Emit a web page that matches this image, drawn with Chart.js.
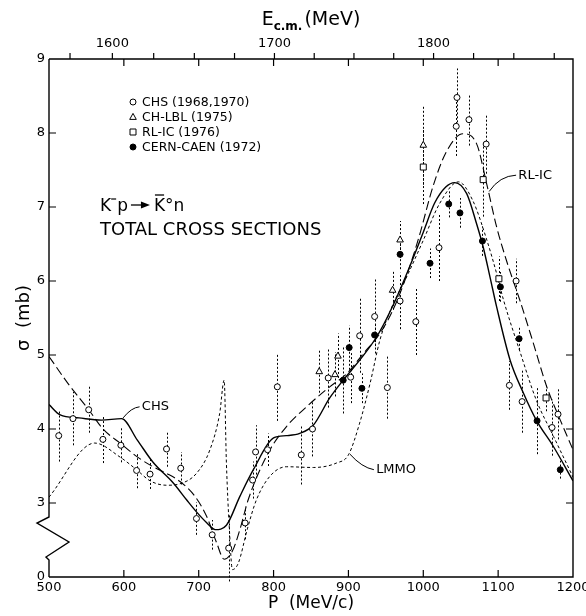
<!DOCTYPE html>
<html>
<head>
<meta charset="utf-8">
<script src="https://cdn.jsdelivr.net/npm/chart.js@4.4.0/dist/chart.umd.min.js"></script>
<style>
  html, body { margin: 0; padding: 0; background: #fff; }
</style>
</head>
<body>
<canvas id="chart" width="586" height="616"></canvas>
<script>
const FONT = '"DejaVu Sans", "Liberation Sans", sans-serif';

// axes
const pTicks = [500, 600, 700, 800, 900, 1000, 1100, 1200];
const ecmLabelled = [1600, 1700, 1800];
const ecmMinor = [1575, 1600, 1625, 1650, 1675, 1700, 1725, 1750, 1775, 1800, 1825, 1850, 1875];
const sigmaTicks = [3, 4, 5, 6, 7, 8, 9];
const SIGMA_FLOOR = 2; // broken axis: this height carries the label 0

// fitted curves
const chsFitP = [500, 515, 540, 570, 597, 618, 639, 666, 684, 697, 711, 722, 737, 755, 773, 800, 817, 835, 853, 875, 893, 915, 938, 960, 980, 1000, 1015, 1030, 1042, 1058, 1071, 1080, 1089, 1098, 1116, 1134, 1151, 1174, 1200];
const chsFitS = [4.33, 4.19, 4.15, 4.12, 4.14, 3.85, 3.55, 3.27, 3.04, 2.88, 2.73, 2.64, 2.70, 3.09, 3.45, 3.88, 3.91, 3.94, 4.05, 4.42, 4.66, 4.93, 5.25, 5.68, 6.15, 6.66, 7.05, 7.27, 7.33, 7.18, 6.78, 6.46, 6.06, 5.65, 4.93, 4.48, 4.12, 3.76, 3.30];

const rlicFitP = [500, 525, 553, 573, 595, 617, 639, 657, 675, 695, 711, 724, 734, 745, 755, 766, 793, 817, 844, 875, 898, 920, 942, 960, 978, 995, 1013, 1031, 1053, 1071, 1085, 1098, 1111, 1129, 1147, 1165, 1183, 1200];
const rlicFitS = [4.98, 4.62, 4.26, 3.99, 3.81, 3.63, 3.49, 3.40, 3.29, 3.09, 2.81, 2.46, 2.24, 2.35, 2.64, 3.04, 3.68, 4.03, 4.30, 4.57, 4.75, 5.02, 5.29, 5.62, 6.08, 6.62, 7.28, 7.75, 7.99, 7.86, 7.30, 6.73, 6.28, 5.74, 5.16, 4.57, 4.12, 3.72];

const lmmoP = [500, 561, 595, 617, 635, 657, 675, 697, 715, 728, 734, 737, 741, 745, 753, 765, 777, 795, 817, 853, 884, 900, 915, 929, 942, 958, 978, 1000, 1022, 1047, 1066, 1085, 1098, 1107, 1129, 1151, 1174, 1200];
const lmmoS = [3.08, 3.81, 3.62, 3.45, 3.30, 3.24, 3.26, 3.40, 3.72, 4.21, 4.66, 3.54, 2.64, 2.10, 2.19, 2.65, 3.04, 3.36, 3.49, 3.48, 3.54, 3.65, 4.08, 4.62, 5.20, 5.65, 6.06, 6.55, 7.05, 7.34, 7.09, 6.55, 6.10, 5.75, 5.05, 4.39, 3.90, 3.35];

// measurements: momentum, cross section, error
const chsP = [513, 532, 553, 572, 596, 617, 635, 657, 676, 697, 718, 740, 762, 772, 776, 792, 805, 837, 852, 873, 903, 915, 935, 952, 969, 990, 1021, 1044, 1045, 1061, 1084, 1115, 1124, 1132, 1172, 1180];
const chsS = [3.91, 4.14, 4.26, 3.86, 3.78, 3.44, 3.39, 3.73, 3.47, 2.79, 2.57, 2.39, 2.73, 3.31, 3.69, 3.72, 4.57, 3.65, 4.00, 4.69, 4.70, 5.26, 5.52, 4.56, 5.73, 5.45, 6.45, 8.09, 8.48, 8.18, 7.85, 4.59, 6.00, 4.37, 4.02, 4.20];
const chsErr = [0.35, 0.36, 0.31, 0.32, 0.23, 0.24, 0.2, 0.24, 0.22, 0.22, 0.2, 0.45, 0.22, 0.25, 0.36, 0.22, 0.46, 0.4, 0.37, 0.4, 0.35, 0.5, 0.5, 0.42, 0.38, 0.45, 0.45, 0.4, 0.39, 0.35, 0.4, 0.33, 0.3, 0.42, 0.38, 0.34];

const lblP = [861, 882, 886, 959, 969, 1000];
const lblS = [4.78, 4.74, 4.99, 5.88, 6.56, 7.84];
const lblErr = [0.29, 0.3, 0.3, 0.27, 0.25, 0.54];

const rlP = [1000, 1080, 1101, 1164];
const rlS = [7.54, 7.37, 6.03, 4.42];
const rlErr = [0.5, 0.5, 0.3, 0.18];

const cernP = [893, 901, 918, 935, 969, 1009, 1034, 1049, 1079, 1103, 1128, 1152, 1183];
const cernS = [4.66, 5.10, 4.55, 5.27, 6.36, 6.24, 7.04, 6.92, 6.54, 5.92, 5.22, 4.11, 3.45];
const cernErr = [0.45, 0.3, 0.2, 0.15, 0.2, 0.2, 0.18, 0.2, 0.2, 0.2, 0.15, 0.45, 0.12];

const legendItems = [
  { style: 'circle', text: 'CHS (1968,1970)' },
  { style: 'triangle', text: 'CH-LBL (1975)' },
  { style: 'rect', text: 'RL-IC (1976)' },
  { style: 'dot', text: 'CERN-CAEN (1972)' },
];

// K- p kinematics, to place the E c.m. ticks on the momentum scale
const M_K = 493.677, M_P = 938.272;
function pFromEcm(E) {
  const eK = (E * E - M_K * M_K - M_P * M_P) / (2 * M_P);
  return Math.sqrt(eK * eK - M_K * M_K);
}

const xy = (xs, ys) => xs.map((v, i) => ({ x: v, y: ys[i] }));

function drawMarker(ctx, style, x, y) {
  ctx.save();
  ctx.setLineDash([]);
  ctx.lineWidth = 1;
  ctx.strokeStyle = '#000';
  ctx.fillStyle = style === 'dot' ? '#000' : '#fff';
  ctx.beginPath();
  if (style === 'triangle') {
    ctx.moveTo(x, y - 3.6);
    ctx.lineTo(x + 3.3, y + 2.4);
    ctx.lineTo(x - 3.3, y + 2.4);
    ctx.closePath();
  } else if (style === 'rect') {
    ctx.rect(x - 3, y - 3, 6, 6);
  } else {
    ctx.arc(x, y, 3, 0, Math.PI * 2);
  }
  ctx.fill();
  ctx.stroke();
  ctx.restore();
}

// dotted error bars, under everything else
const errorBars = {
  id: 'errorBars',
  beforeDatasetsDraw(chart) {
    const { ctx, scales: { x, y } } = chart;
    ctx.save();
    ctx.strokeStyle = '#000';
    ctx.lineWidth = 1;
    ctx.setLineDash([2, 2]);
    chart.data.datasets.forEach(ds => {
      if (!ds.errors) return;
      ds.data.forEach((pt, i) => {
        const px = Math.round(x.getPixelForValue(pt.x)) + 0.5;
        ctx.beginPath();
        ctx.moveTo(px, y.getPixelForValue(pt.y - ds.errors[i]));
        ctx.lineTo(px, y.getPixelForValue(pt.y + ds.errors[i]));
        ctx.stroke();
      });
    });
    ctx.restore();
  }
};

// markers drawn by hand so the shapes match the legend
const markers = {
  id: 'markers',
  afterDatasetsDraw(chart) {
    const { ctx, scales: { x, y } } = chart;
    chart.data.datasets.forEach(ds => {
      if (!ds.marker) return;
      ds.data.forEach(pt => drawMarker(ctx, ds.marker, x.getPixelForValue(pt.x), y.getPixelForValue(pt.y)));
    });
  }
};

// frame with inward ticks, broken left axis, labels and captions
const frame = {
  id: 'frame',
  afterDraw(chart) {
    const { ctx, chartArea: a, scales: { x, y } } = chart;
    ctx.save();
    ctx.strokeStyle = '#000';
    ctx.setLineDash([]);
    ctx.lineWidth = 1.4;
    ctx.beginPath();
    ctx.moveTo(a.left, a.top);
    ctx.lineTo(a.right, a.top);
    ctx.lineTo(a.right, a.bottom);
    ctx.lineTo(a.left, a.bottom);
    ctx.stroke();

    ctx.beginPath();
    ctx.moveTo(a.left, a.top);
    ctx.lineTo(a.left, a.bottom - 60);
    ctx.lineTo(a.left - 12, a.bottom - 54);
    ctx.lineTo(a.left + 20, a.bottom - 35);
    ctx.lineTo(a.left - 3, a.bottom - 20);
    ctx.lineTo(a.left, a.bottom - 17);
    ctx.lineTo(a.left, a.bottom);
    ctx.stroke();

    ctx.lineWidth = 1.2;
    ctx.beginPath();
    pTicks.slice(1, -1).forEach(p => {
      const px = x.getPixelForValue(p);
      ctx.moveTo(px, a.bottom); ctx.lineTo(px, a.bottom - 7);
      ctx.moveTo(px, a.top); ctx.lineTo(px, a.top + 7);
    });
    ecmMinor.forEach(E => {
      const px = x.getPixelForValue(pFromEcm(E));
      ctx.moveTo(px, a.top); ctx.lineTo(px, a.top - 6);
    });
    sigmaTicks.slice(0, -1).forEach(s => {
      const py = y.getPixelForValue(s);
      ctx.moveTo(a.left, py); ctx.lineTo(a.left + 7, py);
      ctx.moveTo(a.right, py); ctx.lineTo(a.right - 7, py);
    });
    ctx.stroke();

    // top axis title E c.m. (MeV)
    ctx.fillStyle = '#000';
    ctx.textBaseline = 'alphabetic';
    const big = `19px ${FONT}`, small = `bold 12px ${FONT}`;
    ctx.font = big; const wE = ctx.measureText('E').width; const wM = ctx.measureText('(MeV)').width;
    ctx.font = small; const wS = ctx.measureText('c.m.').width;
    let tx = (a.left + a.right) / 2 - (wE + wS + 2 + wM) / 2;
    ctx.font = big; ctx.fillText('E', tx, 25); tx += wE;
    ctx.font = small; ctx.fillText('c.m.', tx, 30); tx += wS + 2;
    ctx.font = big; ctx.fillText('(MeV)', tx, 25);

    // legend
    ctx.font = `12.5px ${FONT}`;
    ctx.textBaseline = 'middle';
    legendItems.forEach((it, i) => {
      const ly = 102 + i * 15;
      drawMarker(ctx, it.style, 133, ly);
      ctx.fillText(it.text, 142, ly + 1);
    });

    // reaction caption
    ctx.textBaseline = 'alphabetic';
    let cx = 100;
    const cy = 211;
    ctx.font = `17px ${FONT}`;
    ctx.fillText('K', cx, cy); cx += ctx.measureText('K').width;
    ctx.lineWidth = 1.2;
    ctx.beginPath(); ctx.moveTo(cx, cy - 12); ctx.lineTo(cx + 5, cy - 12); ctx.stroke();
    cx += 6;
    ctx.fillText('p', cx, cy); cx += ctx.measureText('p').width + 3;
    ctx.lineWidth = 1.3;
    ctx.beginPath(); ctx.moveTo(cx, cy - 6); ctx.lineTo(cx + 12, cy - 6); ctx.stroke();
    ctx.beginPath(); ctx.moveTo(cx + 19, cy - 6); ctx.lineTo(cx + 10, cy - 9.5); ctx.lineTo(cx + 10, cy - 2.5); ctx.closePath(); ctx.fill();
    cx += 23;
    const wK = ctx.measureText('K').width;
    ctx.fillText('K', cx, cy);
    ctx.beginPath(); ctx.moveTo(cx + 1, cy - 16); ctx.lineTo(cx + wK - 1, cy - 16); ctx.stroke();
    cx += wK;
    ctx.fillText('\u00b0n', cx, cy);
    ctx.font = `18px ${FONT}`;
    ctx.fillText('TOTAL CROSS SECTIONS', 100, 235);

    // curve labels with leaders
    const curveLabels = [
      { text: 'CHS', at: [624, 4.30], lead: [[621, 4.30], [610, 4.29], [599, 4.15]] },
      { text: 'LMMO', at: [937, 3.45], lead: [[934, 3.45], [918, 3.48], [902, 3.66]] },
      { text: 'RL-IC', at: [1127, 7.43], lead: [[1124, 7.43], [1102, 7.42], [1088, 7.21]] },
    ];
    ctx.font = `13px ${FONT}`;
    ctx.textBaseline = 'middle';
    ctx.lineWidth = 1;
    curveLabels.forEach(l => {
      ctx.fillText(l.text, x.getPixelForValue(l.at[0]), y.getPixelForValue(l.at[1]));
      const [s, c, e] = l.lead.map(q => [x.getPixelForValue(q[0]), y.getPixelForValue(q[1])]);
      ctx.beginPath();
      ctx.moveTo(s[0], s[1]);
      ctx.quadraticCurveTo(c[0], c[1], e[0], e[1]);
      ctx.stroke();
    });
    ctx.restore();
  }
};

const tickFont = { family: FONT, size: 13 };

new Chart(document.getElementById('chart'), {
  type: 'scatter',
  data: {
    datasets: [
      { label: 'CHS (1968,1970)', data: xy(chsP, chsS), errors: chsErr, marker: 'circle', pointRadius: 0, showLine: false },
      { label: 'CH-LBL (1975)', data: xy(lblP, lblS), errors: lblErr, marker: 'triangle', pointRadius: 0, showLine: false },
      { label: 'RL-IC (1976)', data: xy(rlP, rlS), errors: rlErr, marker: 'rect', pointRadius: 0, showLine: false },
      { label: 'CERN-CAEN (1972)', data: xy(cernP, cernS), errors: cernErr, marker: 'dot', pointRadius: 0, showLine: false },
      { label: 'CHS fit', data: xy(chsFitP, chsFitS), showLine: true, borderColor: '#000', borderWidth: 1.4, pointRadius: 0, cubicInterpolationMode: 'monotone' },
      { label: 'RL-IC fit', data: xy(rlicFitP, rlicFitS), showLine: true, borderColor: '#000', borderWidth: 1.1, borderDash: [9, 4], pointRadius: 0, cubicInterpolationMode: 'monotone' },
      { label: 'LMMO', data: xy(lmmoP, lmmoS), showLine: true, borderColor: '#000', borderWidth: 1, borderDash: [3, 2.5], pointRadius: 0, cubicInterpolationMode: 'monotone' },
    ]
  },
  options: {
    responsive: false,
    animation: false,
    layout: { padding: { left: 0, right: 13, top: 0, bottom: 0 } },
    plugins: { legend: { display: false }, tooltip: { enabled: false } },
    scales: {
      x: {
        type: 'linear', position: 'bottom', min: 500, max: 1200,
        grid: { display: false, drawTicks: false }, border: { display: false },
        afterBuildTicks: s => { s.ticks = pTicks.map(v => ({ value: v })); },
        ticks: { autoSkip: false, maxRotation: 0, padding: 3, color: '#000', font: tickFont, callback: v => String(v) },
        title: { display: true, text: 'P  (MeV/c)', color: '#000', font: { family: FONT, size: 17 }, padding: { top: 0, bottom: 2 } },
        afterFit: s => { s.height = 39; s.paddingLeft = 0; s.paddingRight = 0; }
      },
      xTop: {
        type: 'linear', position: 'top', axis: 'x', min: 500, max: 1200,
        grid: { display: false, drawTicks: false }, border: { display: false },
        afterBuildTicks: s => { s.ticks = ecmLabelled.map(E => ({ value: pFromEcm(E) })); },
        ticks: { autoSkip: false, maxRotation: 0, padding: 8, color: '#000', font: tickFont, callback: (v, i) => String(ecmLabelled[i]) },
        afterFit: s => { s.height = 59; s.paddingLeft = 0; s.paddingRight = 0; }
      },
      y: {
        type: 'linear', position: 'left', min: SIGMA_FLOOR, max: 9,
        grid: { display: false, drawTicks: false }, border: { display: false },
        afterBuildTicks: s => { s.ticks = [SIGMA_FLOOR, ...sigmaTicks].map(v => ({ value: v })); },
        ticks: { autoSkip: false, padding: 4, color: '#000', font: tickFont, callback: v => (v === SIGMA_FLOOR ? '0' : String(v)) },
        title: { display: true, text: '\u03c3  (mb)', color: '#000', font: { family: FONT, size: 18 }, padding: { top: 14, bottom: 0 } },
        afterFit: s => { s.width = 49; s.paddingTop = 0; s.paddingBottom = 0; }
      }
    }
  },
  plugins: [errorBars, markers, frame]
});
</script>
</body>
</html>
